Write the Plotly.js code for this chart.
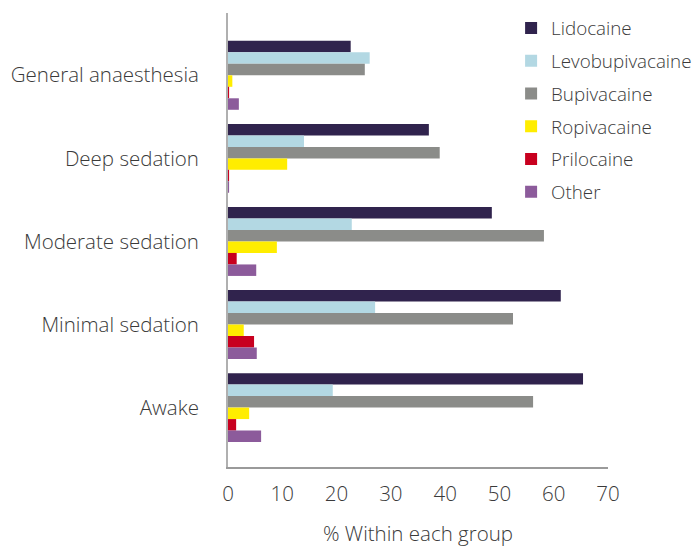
<!DOCTYPE html>
<html>
<head>
<meta charset="utf-8">
<script src="https://cdn.plot.ly/plotly-3.0.1.min.js"></script>
<style>html,body{margin:0;padding:0;background:#fff;}#chart{width:697px;height:547px;}</style>
</head>
<body>
<div id="chart"></div>
<script>
var categories = ['General anaesthesia', 'Deep sedation', 'Moderate sedation', 'Minimal sedation', 'Awake'];
var seriesNames = ['Lidocaine', 'Levobupivacaine', 'Bupivacaine', 'Ropivacaine', 'Prilocaine', 'Other'];
var lidocaine = [22.6, 37.0, 48.6, 61.3, 65.4];
var levobupivacaine = [26.1, 14.0, 22.8, 27.1, 19.3];
var bupivacaine = [25.2, 39.0, 58.2, 52.5, 56.2];
var ropivacaine = [0.8, 10.9, 9.0, 2.9, 3.9];
var prilocaine = [0.2, 0.2, 1.6, 4.8, 1.5];
var other = [2.0, 0.2, 5.2, 5.3, 6.1];
var xTicks = [0, 10, 20, 30, 40, 50, 60, 70];
var colors = ['#30234d', '#b3d8e3', '#8b8c89', '#ffed00', '#c8001f', '#8c5b9b'];

var seriesValues = [lidocaine, levobupivacaine, bupivacaine, ropivacaine, prilocaine, other];
var traces = seriesValues.map(function (vals, i) {
  return {
    type: 'bar', orientation: 'h',
    name: seriesNames[i], legendgroup: 'g' + i,
    x: vals, y: categories,
    marker: {color: colors[i], line: {width: 0}},
    hoverinfo: 'x+name'
  };
});

var font = '"Open Sans", Lato, sans-serif';
var txt = '#3a3a3a';
var axSize = 20.5;
var layout = {
  width: 697, height: 547,
  margin: {l: 228, r: 89, t: 13, b: 80, autoexpand: false},
  paper_bgcolor: '#fff', plot_bgcolor: '#fff',
  barmode: 'group', bargap: 0.17, bargroupgap: 0,
  font: {family: font, size: axSize, color: txt, weight: 300},
  showlegend: true,
  legend: {
    x: 0.745, xanchor: 'left', y: 1.008, yanchor: 'top',
    font: {family: font, size: 18.8, color: txt, weight: 300},
    tracegroupgap: 5.3, bgcolor: 'rgba(0,0,0,0)'
  },
  xaxis: {
    range: [0, 70], tickvals: xTicks, ticktext: xTicks.map(String),
    showgrid: false, zeroline: false,
    showline: true, linecolor: '#9a9a9a', linewidth: 2,
    ticks: '', ticklabelstandoff: 7,
    tickfont: {family: font, size: axSize, color: txt, weight: 300},
    title: {text: '% Within each group', font: {family: font, size: axSize, color: txt, weight: 300}, standoff: 31},
    fixedrange: true
  },
  yaxis: {
    type: 'category', categoryorder: 'array', categoryarray: categories,
    range: [4.715, -0.75],
    showgrid: false, zeroline: false,
    showline: true, linecolor: '#b0b0b0', linewidth: 2,
    ticks: '', ticklabelstandoff: 23,
    tickfont: {family: font, size: axSize, color: txt, weight: 300},
    fixedrange: true
  }
};

Plotly.newPlot('chart', traces, layout, {displayModeBar: false, staticPlot: true});
</script>
</body>
</html>
